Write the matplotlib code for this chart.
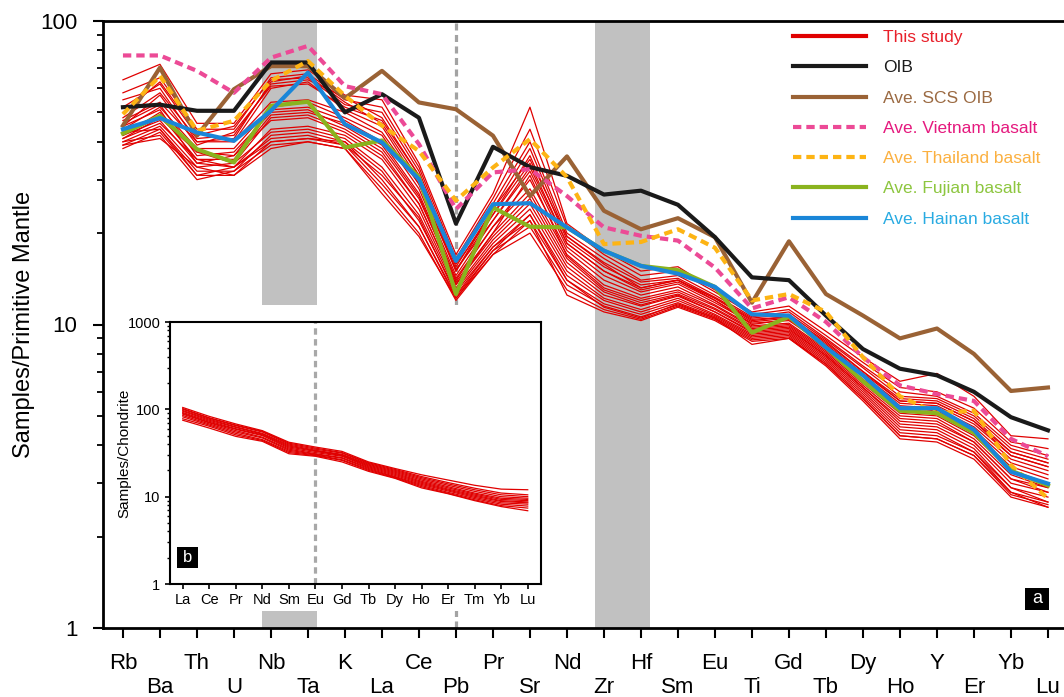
import matplotlib.pyplot as plt
from matplotlib.lines import Line2D
from matplotlib.patches import Rectangle
from matplotlib.ticker import NullFormatter
import numpy as np

plt.rcParams['font.family'] = ['Liberation Sans', 'DejaVu Sans']

# primitive-mantle normalised spidergram
elements = ['Rb', 'Ba', 'Th', 'U', 'Nb', 'Ta', 'K', 'La', 'Ce', 'Pb', 'Pr', 'Sr', 'Nd',
            'Zr', 'Hf', 'Sm', 'Eu', 'Ti', 'Gd', 'Tb', 'Dy', 'Ho', 'Y', 'Er', 'Yb', 'Lu']

samples = [
    [64, 72, 46, 46, 67, 69, 57, 55, 34, 17, 27, 52, 21.5, 17.5, 15, 15.5, 13, 11, 11.5, 9.5, 7.8, 6.5, 6.9, 5.8, 4.3, 4.2],
    [58, 65, 44, 44, 65, 67, 55, 52, 33, 16.5, 26, 44, 21, 17, 14.5, 15, 12.8, 10.8, 11.2, 9.2, 7.5, 6.2, 6.0, 5.3, 4.1, 3.9],
    [52, 62, 42, 45, 64, 65, 53, 50, 32, 16, 25, 40, 20, 16.5, 14, 14.5, 12.5, 10.6, 11, 9.0, 7.3, 6.0, 5.8, 5.1, 4.0, 3.7],
    [48, 58, 41, 42, 62, 64, 56, 48, 31, 15.5, 24, 38, 19.5, 16, 13.8, 14.2, 12.3, 10.5, 10.8, 8.9, 7.2, 5.8, 5.7, 5.0, 3.9, 3.6],
    [55, 60, 40, 41, 63, 66, 54, 46, 30, 15.8, 23, 36, 19, 15.5, 13.5, 14, 12.2, 10.3, 10.6, 8.8, 7.0, 5.7, 5.6, 4.9, 3.8, 3.5],
    [45, 57, 39, 43, 61, 62, 52, 47, 31, 15, 24, 35, 19.5, 15.8, 13.2, 14, 12.0, 10.2, 10.5, 8.6, 6.9, 5.6, 5.5, 4.8, 3.8, 3.5],
    [50, 63, 43, 40, 60, 63, 51, 45, 29, 15.2, 22, 33, 18.5, 15, 13, 13.8, 12.0, 10.0, 10.4, 8.5, 6.8, 5.5, 5.4, 4.7, 3.7, 3.4],
    [47, 54, 40, 40, 54, 55, 50, 43, 29, 15, 23, 34, 18.5, 15, 13.2, 14, 12.2, 10.4, 10.6, 8.7, 7.0, 5.6, 5.5, 4.8, 3.7, 3.4],
    [44, 52, 38, 38, 52, 54, 48, 42, 28, 14.5, 22, 32, 18, 14.5, 12.8, 13.6, 11.8, 10.1, 10.3, 8.5, 6.8, 5.4, 5.3, 4.6, 3.6, 3.3],
    [42, 50, 37, 36, 51, 52, 47, 40, 27, 14.2, 21, 30, 17.5, 14, 12.5, 13.3, 11.6, 9.9, 10.1, 8.3, 6.6, 5.3, 5.2, 4.5, 3.5, 3.2],
    [46, 53, 36, 37, 50, 51, 45, 38, 26, 14, 21, 28, 17, 13.5, 12.2, 13, 11.5, 9.8, 10, 8.2, 6.5, 5.2, 5.1, 4.4, 3.4, 3.1],
    [43, 49, 35, 35, 49, 50, 46, 39, 26.5, 13.8, 20, 31, 16.8, 13.2, 12, 12.8, 11.3, 9.7, 9.9, 8.1, 6.4, 5.1, 5.0, 4.3, 3.3, 3.0],
    [41, 48, 37, 34, 48, 49, 44, 37, 25, 13.5, 20, 27, 16.5, 13, 11.8, 12.6, 11.2, 9.6, 9.8, 8.0, 6.3, 5.0, 4.9, 4.2, 3.2, 2.9],
    [45, 51, 34, 36, 47, 48, 43, 36, 25, 13.6, 19.5, 26, 16, 12.8, 11.6, 12.5, 11.0, 9.5, 9.7, 7.9, 6.2, 4.9, 4.8, 4.1, 3.1, 2.9],
    [42, 47, 34, 33, 44, 45, 42, 35, 24, 13.2, 19, 25, 15.5, 12.5, 11.5, 12.4, 11.0, 9.4, 9.6, 7.9, 6.2, 4.8, 4.7, 4.1, 3.1, 2.8],
    [40, 45, 33, 34, 43, 44, 41, 33, 23, 13, 18.5, 24, 15, 12.2, 11.2, 12.2, 10.8, 9.3, 9.5, 7.8, 6.1, 4.7, 4.6, 4.0, 3.0, 2.8],
    [39, 44, 32, 32, 42, 43, 40, 32, 22, 12.8, 18, 23, 14.5, 12, 11, 12, 10.7, 9.2, 9.4, 7.7, 6.0, 4.6, 4.5, 3.9, 2.9, 2.7],
    [41, 46, 35, 33, 41, 42, 39, 31, 22.5, 12.5, 18, 22, 14, 11.7, 10.8, 11.8, 10.6, 9.1, 9.3, 7.6, 5.9, 4.5, 4.4, 3.8, 2.9, 2.6],
    [38, 43, 31, 31, 40, 41, 40, 30, 21, 12.2, 17.5, 21, 13.5, 11.5, 10.6, 11.6, 10.5, 9.0, 9.2, 7.5, 5.8, 4.4, 4.3, 3.8, 2.8, 2.6],
    [40, 42, 30, 32, 39, 40, 38, 28, 20, 12, 17, 20, 13, 11.2, 10.4, 11.5, 10.4, 8.9, 9.1, 7.4, 5.7, 4.3, 4.2, 3.7, 2.8, 2.5],
    [39, 41, 33, 31, 38, 40, 38, 27, 19.5, 12.2, 17, 22, 12.5, 11, 10.3, 11.4, 10.3, 8.8, 9.0, 7.3, 5.6, 4.2, 4.1, 3.6, 2.7, 2.5],
    [43, 44, 31, 33, 40, 41, 39, 29, 21, 12.4, 17.5, 23, 14, 11.4, 10.5, 11.7, 10.5, 8.6, 9.0, 7.4, 5.7, 4.3, 4.2, 3.7, 2.75, 2.55],
]

oib = [52, 53, 50.6, 50.6, 73, 73, 50, 57.4, 48, 21.5, 38.5, 33, 30.9, 26.8, 27.6, 24.8,
       19.4, 14.3, 14.0, 10.7, 8.3, 7.15, 6.8, 6.0, 4.95, 4.48]
scs_oib = [45.2, 70.2, 41.9, 59.6, 71, 71, 55.7, 68.5, 53.9, 51.2, 41.9, 26.5, 35.8, 23.7, 20.6,
           22.4, 19.4, 11.8, 18.8, 12.6, 10.7, 9.0, 9.7, 8.0, 6.04, 6.2]
vietnam = [77, 77, 68.5, 58, 75.7, 82.8, 61, 57.4, 39.3, 24, 31.7, 32.5, 26.5, 20.9, 19.6, 18.9,
           15.4, 11.3, 12.3, 10.2, 7.8, 6.3, 5.9, 5.6, 4.2, 3.68]
thailand = [49.3, 65.9, 43.5, 46.9, 63.5, 73.8, 56.7, 45.2, 37.3, 25.6, 32.9, 40.8, 30.6, 18.4,
            18.7, 20.6, 17.9, 12.0, 12.6, 11.0, 7.8, 5.8, 5.1, 5.2, 3.44, 2.67]
fujian = [42.6, 48.7, 37.8, 34.2, 52.5, 54.2, 38.3, 40.4, 30.6, 12.6, 24.3, 21.0, 20.9, 17.5, 15.6,
          15.1, 13.3, 9.4, 10.6, 8.4, 6.5, 5.2, 5.1, 4.4, 3.3, 2.95]
hainan = [44, 47.9, 42.9, 40.3, 50.6, 67.6, 45.7, 39.8, 30.1, 16.2, 24.9, 25.1, 20.9, 17.5, 15.6,
          14.7, 13.3, 10.8, 10.7, 8.4, 6.8, 5.3, 5.3, 4.5, 3.27, 2.99]

# chondrite normalised REE
ree = ['La', 'Ce', 'Pr', 'Nd', 'Sm', 'Eu', 'Gd', 'Tb', 'Dy', 'Ho', 'Er', 'Tm', 'Yb', 'Lu']
samples_ree = [
    [105, 83, 68, 57, 42, 37, 33, 25, 21, 17.8, 15.5, 13.5, 12.2, 12.0],
    [102, 80, 66, 56, 41, 36, 32, 24.5, 20.5, 17, 14.5, 12.5, 11.0, 10.5],
    [100, 79, 65, 55, 40, 35, 31.5, 24, 20, 16.5, 14, 12, 10.5, 10.0],
    [97, 77, 63, 53, 39, 34, 30.5, 23.5, 19.5, 16, 13.5, 11.5, 10, 9.6],
    [95, 75, 62, 52, 38, 33.5, 30, 23, 19, 15.5, 13, 11, 9.6, 9.3],
    [92, 73, 60, 51, 37, 33, 29.5, 22.5, 18.5, 15, 12.6, 10.7, 9.3, 9.0],
    [90, 71, 59, 50, 36, 32, 29, 22, 18, 14.6, 12.2, 10.4, 9.0, 8.7],
    [88, 70, 57, 48, 35, 31, 28, 21.5, 17.5, 14.2, 11.9, 10.1, 8.8, 8.5],
    [85, 68, 55, 47, 34, 30.5, 27.5, 21, 17, 13.8, 11.6, 9.8, 8.5, 8.2],
    [82, 66, 53, 45, 33, 30, 26.5, 20.5, 16.7, 13.4, 11.2, 9.5, 8.2, 7.8],
    [78, 64, 51, 44, 32, 29.5, 26, 20, 16.4, 13, 10.9, 9.2, 7.9, 7.4],
    [75, 61, 49, 43, 31, 29, 25, 19.5, 16.2, 12.6, 10.8, 9.0, 7.7, 6.9],
]

red = '#e00000'
series = [
    (scs_oib, 'Ave. SCS OIB', '#9a6235', '#9b6a42', None),
    (oib, 'OIB', '#1a1a1a', '#1a1a1a', None),
    (vietnam, 'Ave. Vietnam basalt', '#ec4a96', '#e5197e', (2.0, 1.2)),
    (thailand, 'Ave. Thailand basalt', '#fdb414', '#fbb040', (2.0, 1.2)),
    (fujian, 'Ave. Fujian basalt', '#8ab31e', '#8dc63f', None),
    (hainan, 'Ave. Hainan basalt', '#1a86d8', '#29abe2', None),
]

W, H = 1064, 697
fig = plt.figure(figsize=(W / 100, H / 100), dpi=100)
ax = fig.add_axes([102.6 / W, 69 / H, 962 / W, 607 / H])
ax.set_yscale('log')
ax.set_ylim(1, 100)
ax.set_xlim(-0.55, 25.45)

x = np.arange(len(elements))
ax.axvspan(3.76, 5.24, color='#c1c1c1', lw=0, zorder=0)
ax.axvspan(12.76, 14.24, color='#c1c1c1', lw=0, zorder=0)
ax.axvline(9, color='#a3a3a3', lw=2.3, dashes=(2.2, 1.4), zorder=0.5)

for row in samples:
    ax.plot(x, row, color=red, lw=0.9, zorder=2)

handles = [Line2D([], [], color=red, lw=3)]
labels = ['This study']
text_colors = ['#e8202a']
for vals, name, col, tcol, dash in series:
    kw = dict(color=col, lw=3, zorder=3)
    if dash:
        kw['dashes'] = dash
    line, = ax.plot(x, vals, **kw)
    handles.append(line)
    labels.append(name)
    text_colors.append(tcol)
# OIB listed before SCS OIB in the key
handles[1], handles[2] = handles[2], handles[1]
labels[1], labels[2] = labels[2], labels[1]
text_colors[1], text_colors[2] = text_colors[2], text_colors[1]

leg = ax.legend(handles, labels, loc='upper left', bbox_to_anchor=(793 / W, 1 - 30 / H),
                bbox_transform=fig.transFigure, frameon=False, fontsize=12.5,
                handlelength=4.2, handletextpad=1.0, labelspacing=0.87, borderpad=0,
                borderaxespad=0)
for t, c in zip(leg.get_texts(), text_colors):
    t.set_color(c)

ax.set_xticks(x)
ax.set_xticklabels(elements, fontsize=16)
ax.set_yticks([1, 10, 100])
ax.set_yticklabels(['1', '10', '100'], fontsize=16)
ax.yaxis.set_minor_formatter(NullFormatter())
ax.tick_params(which='major', length=7.2, width=1.5, direction='out')
ax.tick_params(which='minor', length=4.3, width=1.3, direction='out')
ax.tick_params(axis='y', which='major', pad=11)
for i, t in enumerate(ax.xaxis.get_major_ticks()):
    t.set_pad(10.5 if i % 2 == 0 else 28)
ax.spines['right'].set_visible(False)
for s in ['left', 'bottom', 'top']:
    ax.spines[s].set_linewidth(2)
ax.set_ylabel('Samples/Primitive Mantle', fontsize=17)
ax.yaxis.set_label_coords(-0.0703, 0.5)

ax.add_patch(Rectangle((0.9588, 0.0297), 0.025, 0.0362, transform=ax.transAxes,
                       facecolor='black', edgecolor='none', zorder=4))
ax.text(0.9713, 0.0478, 'a', transform=ax.transAxes, color='white', fontsize=13,
        ha='center', va='center', zorder=5)

# white backing behind the REE inset
fig.patches.append(Rectangle((110 / W, (H - 611) / H), 438 / W, 306 / H,
                             transform=fig.transFigure, facecolor='white',
                             edgecolor='none', zorder=1))

ins = fig.add_axes([169.5 / W, (H - 584) / H, 371.5 / W, 262 / H])
ins.set_zorder(2)
ins.set_yscale('log')
ins.set_ylim(1, 1000)
ins.set_xlim(-0.5, 13.5)
xr = np.arange(len(ree))
ins.axvline(5, color='#a8a8a8', lw=2.3, dashes=(2.0, 1.4), zorder=0.5)
for row in samples_ree:
    ins.plot(xr, row, color=red, lw=0.9)
ins.set_xticks(xr)
ins.set_xticklabels(ree, fontsize=10.5)
ins.set_yticks([1, 10, 100, 1000])
ins.set_yticklabels(['1', '10', '100', '1000'], fontsize=10.5)
ins.yaxis.set_minor_formatter(NullFormatter())
ins.tick_params(which='major', length=3.5, width=1.2, pad=3)
ins.tick_params(which='minor', length=2.2, width=1.0)
for s in ins.spines.values():
    s.set_linewidth(1.5)
ins.set_ylabel('Samples/Chondrite', fontsize=11)
ins.yaxis.set_label_coords(-0.102, 0.5)
ins.add_patch(Rectangle((0.0202, 0.0611), 0.0565, 0.0802, transform=ins.transAxes,
                        facecolor='black', edgecolor='none', zorder=4))
ins.text(0.0485, 0.101, 'b', transform=ins.transAxes, color='white', fontsize=12,
         ha='center', va='center', zorder=5)

fig.savefig('out.png', dpi=100)
